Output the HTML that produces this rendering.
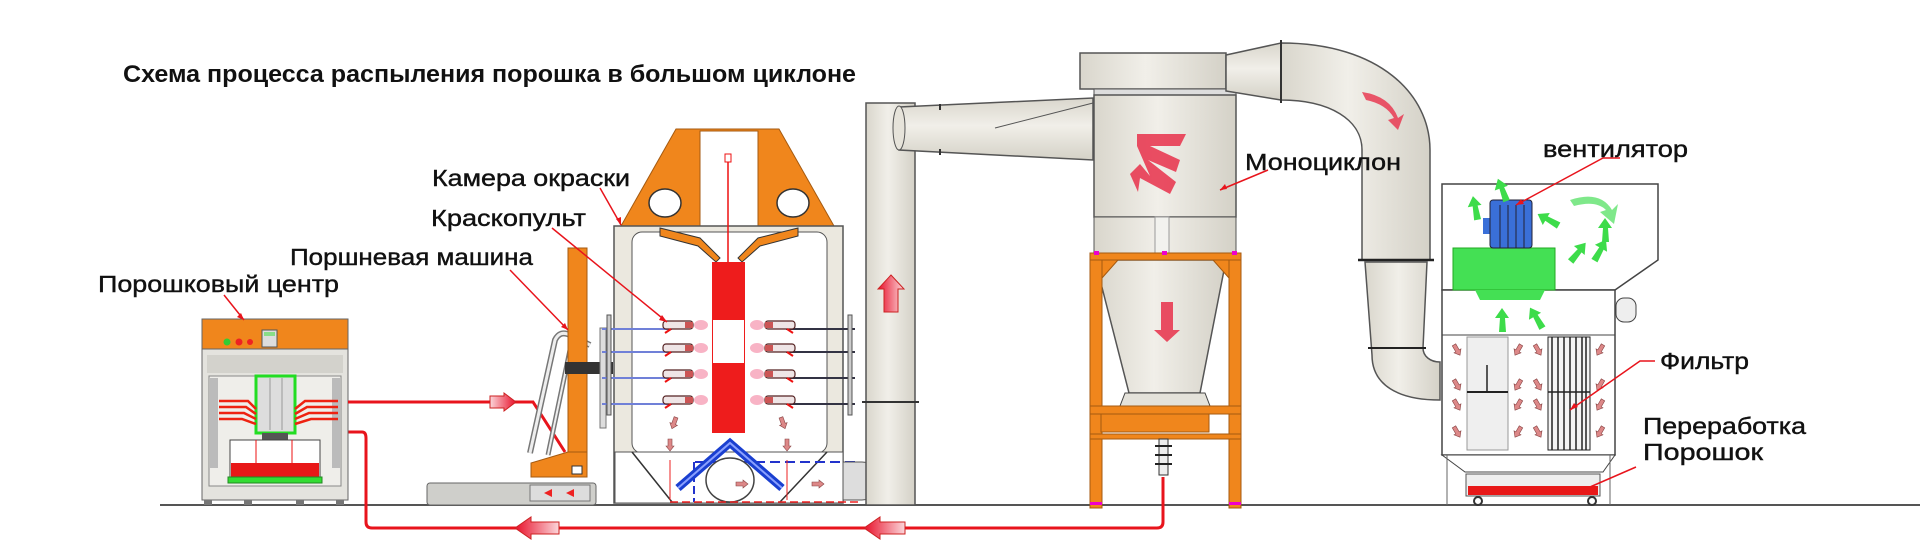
<!DOCTYPE html>
<html><head><meta charset="utf-8"><style>
html,body{margin:0;padding:0;background:#fff}
svg{display:block}
text{font-family:"Liberation Sans","DejaVu Sans",sans-serif;fill:#111}
</style></head><body>
<svg width="1920" height="545" viewBox="0 0 1920 545" xmlns="http://www.w3.org/2000/svg">
<defs>
<linearGradient id="pipe" x1="0" x2="1" y1="0" y2="0"><stop offset="0" stop-color="#d9d6cc"/><stop offset=".45" stop-color="#f1efe9"/><stop offset="1" stop-color="#d4d1c7"/></linearGradient>
<linearGradient id="pipeh" x1="0" x2="0" y1="0" y2="1"><stop offset="0" stop-color="#d9d6cc"/><stop offset=".45" stop-color="#f1efe9"/><stop offset="1" stop-color="#d4d1c7"/></linearGradient>
<linearGradient id="pink" x1="0" x2="1"><stop offset="0" stop-color="#e8102a"/><stop offset="1" stop-color="#fbd6da"/></linearGradient>
<linearGradient id="pinkr" x1="1" x2="0"><stop offset="0" stop-color="#e8102a"/><stop offset="1" stop-color="#fbd6da"/></linearGradient>
<g id="ga"><path d="M0,-12 L7,-2 L3,-2 L4,12 L-3,12 L-2,-2 L-7,-2 Z" fill="#3ddc4a"/></g>
<g id="pa"><path d="M0,-6 L4,-1 L2,-1 L2,6 L-2,6 L-2,-1 L-4,-1 Z" fill="#d88" stroke="#844" stroke-width=".6"/></g>
<g id="gun"><rect x="0" y="-4" width="30" height="8" rx="3" fill="#efe5e6" stroke="#522" stroke-width="1.2"/><rect x="22" y="-3" width="8" height="6" fill="#c55"/><ellipse cx="38" cy="0" rx="7" ry="5" fill="#f6a0b6" opacity=".8"/><path d="M8,4 L2,8" stroke="#e11" stroke-width="2"/></g>
</defs>

<text x="123" y="82" font-size="24" font-weight="bold" textLength="733" lengthAdjust="spacingAndGlyphs">Схема процесса распыления порошка в большом циклоне</text>

<line x1="160" y1="505" x2="1920" y2="505" stroke="#555" stroke-width="2"/>

<path d="M308,463 L308,432 L362,432 Q366,432 366,438 L366,522 Q366,528 372,528 L1157,528 Q1163,528 1163,522 L1163,477" fill="none" stroke="#e8141c" stroke-width="3"/>
<path d="M515,528 L531,517 L531,522 L559,522 L559,534 L531,534 L531,539 Z" fill="url(#pink)" stroke="#c22" stroke-width="1"/>
<path d="M864,528 L880,517 L880,522 L905,522 L905,534 L880,534 L880,539 Z" fill="url(#pink)" stroke="#c22" stroke-width="1"/>

<rect x="202" y="319" width="146" height="30" fill="#f0861c" stroke="#666"/>
<circle cx="227" cy="342" r="3.5" fill="#3c3"/><circle cx="239" cy="342" r="3.5" fill="#e22"/><circle cx="250" cy="342" r="3" fill="#e22"/>
<rect x="262" y="330" width="15" height="17" fill="#ddd" stroke="#555"/><rect x="264" y="332" width="11" height="4" fill="#8d8"/>
<rect x="202" y="349" width="146" height="151" fill="#e4e3de" stroke="#666"/>
<rect x="207" y="355" width="136" height="18" fill="#d3d2cc"/>
<rect x="209" y="376" width="132" height="110" fill="#efeeea" stroke="#888"/>
<rect x="210" y="378" width="8" height="90" fill="#bbb"/><rect x="332" y="378" width="8" height="90" fill="#bbb"/>
<rect x="256" y="376" width="39" height="57" fill="#ddd" stroke="#2d2" stroke-width="3"/>
<line x1="270" y1="378" x2="270" y2="430" stroke="#999"/><line x1="282" y1="378" x2="282" y2="430" stroke="#999"/>
<g stroke="#e21" stroke-width="2.5" fill="none">
<path d="M219,401 L248,401 L256,409"/><path d="M219,407 L246,407 L256,414"/><path d="M219,413 L244,413 L256,419"/><path d="M219,419 L242,419 L256,424"/>
<path d="M338,401 L305,401 L295,409"/><path d="M338,407 L307,407 L295,414"/><path d="M338,413 L309,413 L295,419"/><path d="M338,419 L311,419 L295,424"/>
</g>
<rect x="262" y="433" width="26" height="8" fill="#555"/>
<rect x="230" y="440" width="90" height="42" fill="#fff" stroke="#444"/>
<rect x="231" y="463" width="88" height="14" fill="#e81818"/>
<rect x="228" y="477" width="94" height="6" fill="#3d3" stroke="#282"/>
<line x1="256" y1="440" x2="256" y2="463" stroke="#e11"/><line x1="292" y1="440" x2="292" y2="463" stroke="#e11"/>
<g fill="#777"><rect x="204" y="500" width="8" height="5"/><rect x="244" y="500" width="8" height="5"/><rect x="296" y="500" width="8" height="5"/><rect x="336" y="500" width="8" height="5"/></g>

<path d="M348,402 L533,402 L565,452" fill="none" stroke="#e8141c" stroke-width="3"/>
<path d="M516,402 L504,393 L504,396 L490,396 L490,408 L504,408 L504,411 Z" fill="url(#pinkr)" stroke="#c22"/>

<path d="M530,453 L555,340 Q560,330 570,335 L590,345" fill="none" stroke="#777" stroke-width="6"/>
<path d="M530,453 L555,340 Q560,330 570,335 L590,345" fill="none" stroke="#eee" stroke-width="3"/>
<path d="M548,455 L570,350 Q574,342 582,348" fill="none" stroke="#777" stroke-width="5"/>
<path d="M548,455 L570,350 Q574,342 582,348" fill="none" stroke="#eee" stroke-width="2"/>
<rect x="568" y="248" width="19" height="229" fill="#f0861c" stroke="#a55a10"/>
<rect x="565" y="362" width="48" height="12" fill="#333"/>
<path d="M531,477 L531,463 L568,452 L587,452 L587,477 Z" fill="#f0861c" stroke="#a55a10"/>
<rect x="572" y="466" width="10" height="8" fill="#fff" stroke="#333"/>
<rect x="427" y="483" width="169" height="22" rx="3" fill="#cfcfcb" stroke="#666"/>
<rect x="530" y="485" width="60" height="16" fill="#ddd" stroke="#777"/>
<path d="M544,493 l8,-4 v8 z M566,493 l8,-4 v8 z" fill="#e22"/>
<rect x="600" y="328" width="6" height="100" fill="#ddd" stroke="#777"/>

<path d="M676,129 L779,129 L834,226 L621,226 Z" fill="#f0861c" stroke="#a55a10"/>
<rect x="700" y="131" width="58" height="95" fill="#fff" stroke="#a55a10"/>
<ellipse cx="665" cy="203" rx="16" ry="14" fill="#fff" stroke="#333" stroke-width="1.5"/>
<ellipse cx="793" cy="203" rx="16" ry="14" fill="#fff" stroke="#333" stroke-width="1.5"/>
<rect x="614" y="226" width="229" height="277" fill="#ebe8df" stroke="#555" stroke-width="1.5"/>
<rect x="632" y="232" width="195" height="221" rx="10" fill="#fff" stroke="#555"/>
<path d="M660,228 L700,238 L720,258 L716,262 L698,246 L660,236 Z" fill="#f0861c" stroke="#333"/>
<path d="M798,228 L758,238 L738,258 L742,262 L760,246 L798,236 Z" fill="#f0861c" stroke="#333"/>
<line x1="728" y1="160" x2="728" y2="262" stroke="#e11" stroke-width="1.5"/>
<rect x="725" y="154" width="6" height="8" fill="#fff" stroke="#e11"/>
<rect x="712" y="262" width="33" height="171" fill="#ee1c1c"/>
<rect x="713" y="320" width="31" height="43" fill="#fff"/>
<rect x="615" y="452" width="228" height="51" fill="#fff" stroke="#555"/>
<path d="M632,452 L672,502 M827,452 L780,502" stroke="#333" stroke-width="1.5"/>
<path d="M695,462 L860,462" stroke="#23c" stroke-width="2" stroke-dasharray="10,5"/>
<path d="M694,462 L694,502" stroke="#23c" stroke-width="2" stroke-dasharray="8,4"/>
<ellipse cx="730" cy="480" rx="24" ry="22" fill="#fff" stroke="#444" stroke-width="1.5"/>
<path d="M678,488 L730,443 L782,488" fill="none" stroke="#1a3fd0" stroke-width="8" stroke-linejoin="miter"/>
<path d="M678,488 L730,443 L782,488" fill="none" stroke="#8aa0ff" stroke-width="2"/>
<path d="M670,502 L860,502" stroke="#e22" stroke-width="1.5" stroke-dasharray="8,4"/>
<line x1="670" y1="460" x2="670" y2="500" stroke="#e22"/><line x1="787" y1="460" x2="787" y2="500" stroke="#e22"/>
<g stroke="#7080d8" stroke-width="2">
<line x1="602" y1="329" x2="672" y2="329"/><line x1="602" y1="352" x2="672" y2="352"/><line x1="602" y1="378" x2="672" y2="378"/><line x1="602" y1="404" x2="672" y2="404"/>
</g>
<g stroke="#334" stroke-width="2">
<line x1="786" y1="329" x2="855" y2="329"/><line x1="786" y1="352" x2="855" y2="352"/><line x1="786" y1="378" x2="855" y2="378"/><line x1="786" y1="404" x2="855" y2="404"/>
</g>
<rect x="607" y="315" width="4" height="100" fill="#ccc" stroke="#555"/>
<rect x="848" y="315" width="4" height="100" fill="#ccc" stroke="#555"/>
<use href="#gun" x="663" y="325"/><use href="#gun" x="663" y="348"/><use href="#gun" x="663" y="374"/><use href="#gun" x="663" y="400"/>
<use href="#gun" transform="translate(795 325) scale(-1 1)"/><use href="#gun" transform="translate(795 348) scale(-1 1)"/><use href="#gun" transform="translate(795 374) scale(-1 1)"/><use href="#gun" transform="translate(795 400) scale(-1 1)"/>
<use href="#pa" transform="translate(674 423) rotate(200)"/><use href="#pa" transform="translate(670 445) rotate(180)"/>
<use href="#pa" transform="translate(783 423) rotate(160)"/><use href="#pa" transform="translate(787 445) rotate(180)"/>
<use href="#pa" transform="translate(742 484) rotate(90)"/><use href="#pa" transform="translate(818 484) rotate(90)"/>
<path d="M843,462 L862,462 A19,19 0 0 1 862,500 L843,500 Z" fill="#ddd" stroke="#555"/>

<rect x="866" y="103" width="49" height="402" fill="url(#pipe)" stroke="#555" stroke-width="1.5"/>
<line x1="862" y1="402" x2="919" y2="402" stroke="#333" stroke-width="2"/>
<path d="M891,275 L904,289 L898,289 L898,312 L884,312 L884,289 L878,289 Z" fill="url(#pink)" stroke="#c22"/>

<path d="M899,107 L1093,98 L1093,160 L899,150 Z" fill="url(#pipeh)" stroke="#555" stroke-width="1.5"/>
<ellipse cx="899" cy="128" rx="6" ry="22" fill="#e6e3da" stroke="#555"/>
<line x1="995" y1="128" x2="1093" y2="103" stroke="#555"/>
<line x1="940" y1="104" x2="940" y2="110" stroke="#333" stroke-width="2"/><line x1="940" y1="149" x2="940" y2="155" stroke="#333" stroke-width="2"/>

<rect x="1080" y="53" width="146" height="36" fill="url(#pipe)" stroke="#555" stroke-width="1.5"/>
<rect x="1094" y="89" width="142" height="6" fill="#ddd" stroke="#555"/>
<rect x="1094" y="95" width="142" height="122" fill="url(#pipe)" stroke="#555" stroke-width="1.5"/>
<rect x="1094" y="217" width="142" height="40" fill="url(#pipe)" stroke="#555"/>
<rect x="1155" y="217" width="14" height="40" fill="#f2f2ee" stroke="#999"/>
<path d="M1095,260 L1226,260 L1200,393 L1129,393 Z" fill="url(#pipe)" stroke="#555" stroke-width="1.5"/>
<path d="M1125,393 L1205,393 L1210,406 L1120,406 Z" fill="#e4e2da" stroke="#444"/>
<path d="M1137,134 L1186,134 L1180,146 L1150,146 L1180,160 L1176,172 L1148,160 L1176,182 L1170,194 L1140,178 L1138,192 L1130,174 L1140,164 L1150,176 L1137,146 Z" fill="#e8304a" opacity=".85"/>
<path d="M1161,302 L1161,330 L1154,330 L1167,342 L1180,330 L1173,330 L1173,302 Z" fill="#e8304a" opacity=".85"/>
<g fill="#f0861c" stroke="#a55a10">
<rect x="1090" y="253" width="151" height="7"/>
<rect x="1090" y="260" width="12" height="248"/><rect x="1229" y="260" width="12" height="248"/>
<path d="M1102,260 L1118,260 L1102,278 Z"/><path d="M1229,260 L1213,260 L1229,278 Z"/>
<rect x="1090" y="406" width="151" height="8"/>
<rect x="1101" y="414" width="108" height="18"/>
<rect x="1090" y="434" width="151" height="5"/>
</g>
<g fill="#e0c"><rect x="1094" y="251" width="5" height="4"/><rect x="1162" y="251" width="5" height="4"/><rect x="1232" y="251" width="5" height="4"/><rect x="1090" y="502" width="12" height="3"/><rect x="1229" y="502" width="12" height="3"/></g>
<rect x="1159" y="439" width="9" height="36" fill="#eee" stroke="#333"/>
<g stroke="#222" stroke-width="2"><line x1="1155" y1="446" x2="1172" y2="446"/><line x1="1155" y1="455" x2="1172" y2="455"/><line x1="1155" y1="464" x2="1172" y2="464"/></g>

<path d="M1226,55 L1281,43 L1281,100 L1226,91 Z" fill="url(#pipeh)" stroke="#555" stroke-width="1.5"/>
<path d="M1281,43 C1380,43 1430,95 1430,150 L1430,260 L1362,260 L1362,150 C1362,120 1330,100 1281,100 Z" fill="url(#pipe)" stroke="#555" stroke-width="1.5"/>
<line x1="1281" y1="40" x2="1281" y2="103" stroke="#333" stroke-width="2"/>
<path d="M1365,262 L1427,262 L1423,348 C1423,356 1430,362 1440,362 L1440,400 C1398,400 1372,385 1372,355 Z" fill="url(#pipe)" stroke="#555" stroke-width="1.5"/>
<line x1="1358" y1="260" x2="1434" y2="260" stroke="#222" stroke-width="2.5"/>
<line x1="1368" y1="348" x2="1426" y2="348" stroke="#222" stroke-width="2"/>
<path d="M1362,92 Q1390,96 1398,118 L1404,114 L1398,130 L1388,120 L1394,118 Q1386,104 1366,100 Z" fill="#e8304a" opacity=".8"/>

<path d="M1442,184 L1658,184 L1658,260 L1615,290 L1442,290 Z" fill="#fff" stroke="#444" stroke-width="1.5"/>
<rect x="1442" y="290" width="173" height="165" fill="#fff" stroke="#444" stroke-width="1.5"/>
<line x1="1442" y1="335" x2="1615" y2="335" stroke="#444"/>
<path d="M1442,455 L1615,455 L1603,472 L1465,472 Z" fill="#fff" stroke="#444"/>
<line x1="1447" y1="455" x2="1447" y2="505" stroke="#666"/><line x1="1610" y1="455" x2="1610" y2="505" stroke="#666"/>
<rect x="1466" y="474" width="134" height="22" fill="#eee" stroke="#555"/>
<rect x="1468" y="486" width="130" height="9" fill="#e81818"/>
<circle cx="1478" cy="501" r="4" fill="#fff" stroke="#333" stroke-width="2"/><circle cx="1592" cy="501" r="4" fill="#fff" stroke="#333" stroke-width="2"/>
<rect x="1453" y="248" width="102" height="42" fill="#44e054" stroke="#2a2"/>
<path d="M1475,290 L1545,290 L1540,300 L1480,300 Z" fill="#44e054"/>
<rect x="1483" y="218" width="10" height="16" fill="#3a6fd8"/>
<rect x="1490" y="200" width="42" height="48" rx="3" fill="#3a6fd8" stroke="#223"/>
<g stroke="#223"><line x1="1500" y1="205" x2="1500" y2="248"/><line x1="1508" y1="205" x2="1508" y2="248"/><line x1="1516" y1="205" x2="1516" y2="248"/><line x1="1524" y1="205" x2="1524" y2="248"/></g>
<rect x="1616" y="298" width="20" height="24" rx="8" fill="#eee" stroke="#444"/>
<rect x="1467" y="337" width="41" height="113" fill="#efefef" stroke="#999"/>
<line x1="1467" y1="392" x2="1508" y2="392" stroke="#222" stroke-width="2"/><line x1="1487" y1="365" x2="1487" y2="392" stroke="#222" stroke-width="1.5"/>
<rect x="1548" y="337" width="42" height="113" fill="#f4f4f4" stroke="#222"/>
<g stroke="#222" stroke-width="1.5"><line x1="1552" y1="337" x2="1552" y2="450"/><line x1="1558" y1="337" x2="1558" y2="450"/><line x1="1564" y1="337" x2="1564" y2="450"/><line x1="1570" y1="337" x2="1570" y2="450"/><line x1="1576" y1="337" x2="1576" y2="450"/><line x1="1582" y1="337" x2="1582" y2="450"/><line x1="1586" y1="337" x2="1586" y2="450"/><line x1="1548" y1="392" x2="1590" y2="392"/></g>
<g>
<use href="#pa" transform="translate(1457 350) rotate(150)"/><use href="#pa" transform="translate(1457 385) rotate(150)"/><use href="#pa" transform="translate(1457 405) rotate(150)"/><use href="#pa" transform="translate(1457 432) rotate(150)"/>
<use href="#pa" transform="translate(1518 350) rotate(-150)"/><use href="#pa" transform="translate(1518 385) rotate(-150)"/><use href="#pa" transform="translate(1518 405) rotate(-150)"/><use href="#pa" transform="translate(1518 432) rotate(-150)"/>
<use href="#pa" transform="translate(1538 350) rotate(150)"/><use href="#pa" transform="translate(1538 385) rotate(150)"/><use href="#pa" transform="translate(1538 405) rotate(150)"/><use href="#pa" transform="translate(1538 432) rotate(150)"/>
<use href="#pa" transform="translate(1600 350) rotate(-150)"/><use href="#pa" transform="translate(1600 385) rotate(-150)"/><use href="#pa" transform="translate(1600 405) rotate(-150)"/><use href="#pa" transform="translate(1600 432) rotate(-150)"/>
</g>
<use href="#ga" transform="translate(1475 208) rotate(-10)"/><use href="#ga" transform="translate(1502 320)"/><use href="#ga" transform="translate(1536 318) rotate(-30)"/>
<use href="#ga" transform="translate(1548 220) rotate(-60)"/><use href="#ga" transform="translate(1605 230)"/><use href="#ga" transform="translate(1600 250) rotate(30)"/>
<use href="#ga" transform="translate(1578 252) rotate(40)"/><use href="#ga" transform="translate(1502 190) rotate(-20)"/>
<path d="M1570,200 Q1600,190 1612,210 L1618,204 L1614,224 L1600,212 L1606,210 Q1596,200 1574,206 Z" fill="#7fe88a"/>

<g stroke="#e8141c" stroke-width="1.5" fill="none">
<line x1="224" y1="295" x2="244" y2="320"/>
<line x1="510" y1="270" x2="568" y2="330"/>
<line x1="552" y1="228" x2="667" y2="322"/>
<line x1="600" y1="188" x2="621" y2="225"/>
<line x1="1268" y1="170" x2="1220" y2="190"/>
<path d="M1620,158 L1603,158 L1516,205"/>
<path d="M1655,361 L1640,361 L1570,410"/>
<path d="M1636,467 L1590,487"/>
</g>
<g fill="#e8141c"><path d="M244,320 l-7,-3 l4,-4 z"/><path d="M568,330 l-7,-3 l4,-4 z"/><path d="M667,322 l-8,-2 l3,-5 z"/><path d="M621,225 l-5,-6 l5,-2 z"/><path d="M1220,190 l5,-6 l2,5 z"/><path d="M1516,205 l5,-6 l3,5 z"/><path d="M1570,410 l4,-7 l4,4 z"/></g>
<g stroke="#111" stroke-width=".4">
<text x="98" y="292" font-size="23" textLength="241" lengthAdjust="spacingAndGlyphs">Порошковый центр</text>
<text x="290" y="265" font-size="23" textLength="243" lengthAdjust="spacingAndGlyphs">Поршневая машина</text>
<text x="431" y="226" font-size="23" textLength="155" lengthAdjust="spacingAndGlyphs">Краскопульт</text>
<text x="432" y="186" font-size="23" textLength="198" lengthAdjust="spacingAndGlyphs">Камера окраски</text>
<text x="1245" y="170" font-size="23" textLength="156" lengthAdjust="spacingAndGlyphs">Моноциклон</text>
<text x="1543" y="157" font-size="23" textLength="145" lengthAdjust="spacingAndGlyphs">вентилятор</text>
<text x="1660" y="369" font-size="23" textLength="89" lengthAdjust="spacingAndGlyphs">Фильтр</text>
<text x="1643" y="434" font-size="23" textLength="163" lengthAdjust="spacingAndGlyphs">Переработка</text>
<text x="1643" y="460" font-size="23" textLength="120" lengthAdjust="spacingAndGlyphs">Порошок</text>
</g>
</svg>
</body></html>
